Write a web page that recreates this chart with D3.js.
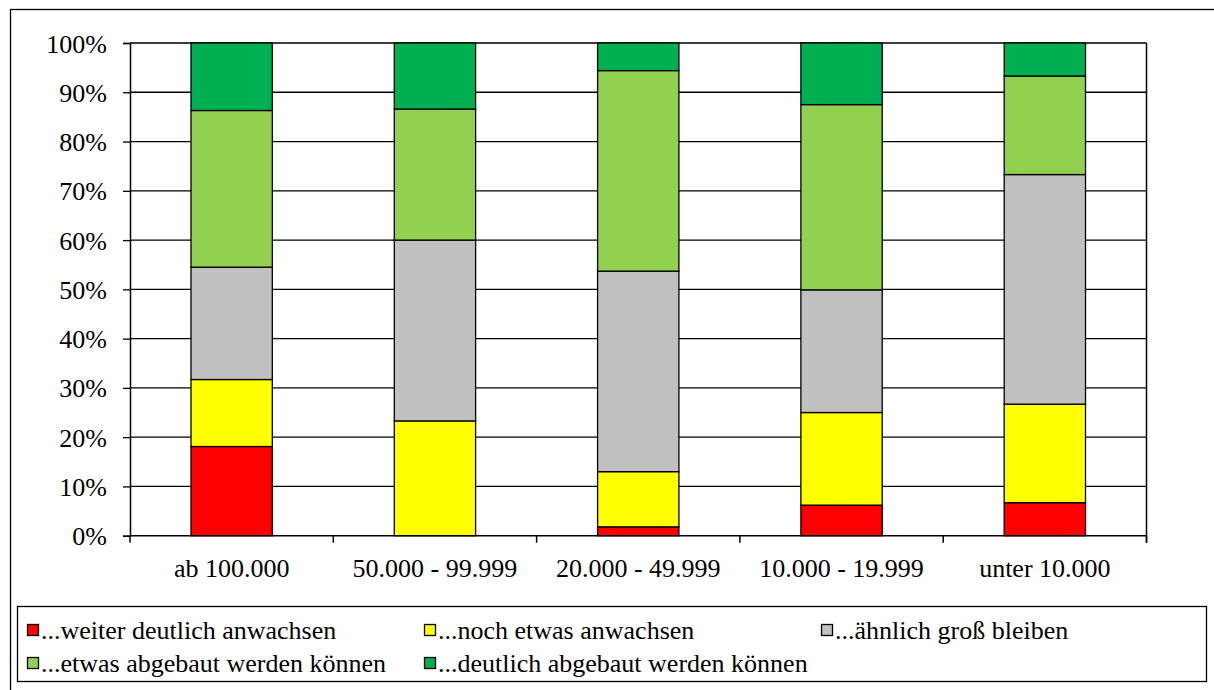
<!DOCTYPE html>
<html>
<head>
<meta charset="utf-8">
<script src="https://cdn.jsdelivr.net/npm/d3@7"></script>
</head>
<body style="margin:0">
<svg id="chart" width="1214" height="690" font-family="Liberation Serif"></svg>
<script>
// categories (Ortsgrößen)
var categories = ["ab 100.000", "50.000 - 99.999", "20.000 - 49.999", "10.000 - 19.999", "unter 10.000"];

// series, share in percent per category
var weiterAnwachsen   = [18.1, 0.0, 1.8, 6.2, 6.7];
var etwasAnwachsen    = [13.6, 23.3, 11.2, 18.8, 20.0];
var aehnlichBleiben   = [22.8, 36.7, 40.7, 24.9, 46.6];
var etwasAbgebaut     = [31.8, 26.6, 40.7, 37.6, 20.0];
var deutlichAbgebaut  = [13.7, 13.4, 5.6, 12.5, 6.7];

var seriesNames = [
  "...weiter deutlich anwachsen",
  "...noch etwas anwachsen",
  "...ähnlich groß bleiben",
  "...etwas abgebaut werden können",
  "...deutlich abgebaut werden können"
];
var seriesColors = ["#ff0000", "#ffff00", "#c0c0c0", "#92d050", "#00b050"];
var yTicks = [0, 10, 20, 30, 40, 50, 60, 70, 80, 90, 100];

var width = 1214, height = 690;
var plot = {left: 130, right: 1146.5, top: 43, bottom: 535.7};
var labelFont = '"Liberation Serif"';
var fontSize = "26px";

var svg = d3.select("#chart");

// outer frame
svg.append("rect")
    .attr("x", 10.5).attr("y", 9.5)
    .attr("width", width + 20).attr("height", height + 20)
    .attr("fill", "none").attr("stroke", "#000").attr("stroke-width", 1.3);

var table = categories.map(function(c, i) {
  return {cat: c, s0: weiterAnwachsen[i], s1: etwasAnwachsen[i], s2: aehnlichBleiben[i],
          s3: etwasAbgebaut[i], s4: deutlichAbgebaut[i]};
});
var keys = ["s0", "s1", "s2", "s3", "s4"];
var stacked = d3.stack().keys(keys)(table);

var x = d3.scaleBand()
    .domain(categories)
    .range([plot.left, plot.right])
    .paddingInner(0.6)
    .paddingOuter(0.3);

var y = d3.scaleLinear()
    .domain([0, 100])
    .range([plot.bottom, plot.top]);

// gridlines
svg.append("g")
  .selectAll("line")
  .data(yTicks.slice(1))
  .enter().append("line")
    .attr("x1", plot.left).attr("x2", plot.right)
    .attr("y1", function(d) { return y(d); })
    .attr("y2", function(d) { return y(d); })
    .attr("stroke", "#000").attr("stroke-width", 1.3);

// right border of plot area
svg.append("line")
    .attr("x1", plot.right).attr("x2", plot.right)
    .attr("y1", plot.top).attr("y2", plot.bottom + 7)
    .attr("stroke", "#000").attr("stroke-width", 1.5);

// bars
svg.append("g")
  .selectAll("g")
  .data(stacked)
  .enter().append("g")
    .attr("fill", function(d, i) { return seriesColors[i]; })
  .selectAll("rect")
  .data(function(d) { return d; })
  .enter().append("rect")
    .attr("x", function(d) { return x(d.data.cat); })
    .attr("width", x.bandwidth())
    .attr("y", function(d) { return y(d[1]); })
    .attr("height", function(d) { return y(d[0]) - y(d[1]); })
    .attr("stroke", "#000")
    .attr("stroke-width", 1.3);

// y axis
var yAxis = svg.append("g")
    .attr("transform", "translate(" + plot.left + ",0)")
    .call(d3.axisLeft(y).tickValues(yTicks).tickSize(7).tickPadding(16)
      .tickFormat(function(d) { return d + "%"; }));
yAxis.attr("font-family", "Liberation Serif").attr("font-size", 26);
yAxis.select(".domain").attr("stroke", "#000").attr("stroke-width", 1.5);
yAxis.selectAll(".tick line").attr("stroke", "#000").attr("stroke-width", 1.3);
yAxis.selectAll("text")
    .style("font-family", labelFont)
    .style("font-size", fontSize)
    .attr("fill", "#000")
    .attr("dy", "0.35em");

// x axis
var step = x.step();
var boundaries = d3.range(categories.length + 1).map(function(i) { return plot.left + i * step; });
svg.append("line")
    .attr("x1", plot.left).attr("x2", plot.right)
    .attr("y1", plot.bottom).attr("y2", plot.bottom)
    .attr("stroke", "#000").attr("stroke-width", 1.5);
svg.append("g")
  .selectAll("line")
  .data(boundaries)
  .enter().append("line")
    .attr("x1", function(d) { return d; }).attr("x2", function(d) { return d; })
    .attr("y1", plot.bottom).attr("y2", plot.bottom + 7)
    .attr("stroke", "#000").attr("stroke-width", 1.5);
svg.append("g")
  .selectAll("text")
  .data(categories)
  .enter().append("text")
    .attr("x", function(d) { return x(d) + x.bandwidth() / 2; })
    .attr("y", 577)
    .attr("text-anchor", "middle")
    .style("font-family", labelFont)
    .style("font-size", fontSize)
    .text(function(d) { return d; });

// legend
svg.append("rect")
    .attr("x", 17.5).attr("y", 606.5)
    .attr("width", 1189).attr("height", 75)
    .attr("fill", "#fff").attr("stroke", "#000").attr("stroke-width", 1.3);

var legend = svg.append("g")
  .selectAll("g")
  .data(seriesNames)
  .enter().append("g")
    .attr("transform", function(d, i) {
      return "translate(" + (27 + (i % 3) * 397) + "," + (630 + Math.floor(i / 3) * 33) + ")";
    });
legend.append("rect")
    .attr("x", 0.5).attr("y", -5.5)
    .attr("width", 11).attr("height", 11)
    .attr("fill", function(d, i) { return seriesColors[i]; })
    .attr("stroke", "#000").attr("stroke-width", 1.3);
legend.append("text")
    .attr("x", 14)
    .attr("dy", "0.35em")
    .style("font-family", labelFont)
    .style("font-size", fontSize)
    .text(function(d) { return d; });
</script>
</body>
</html>
